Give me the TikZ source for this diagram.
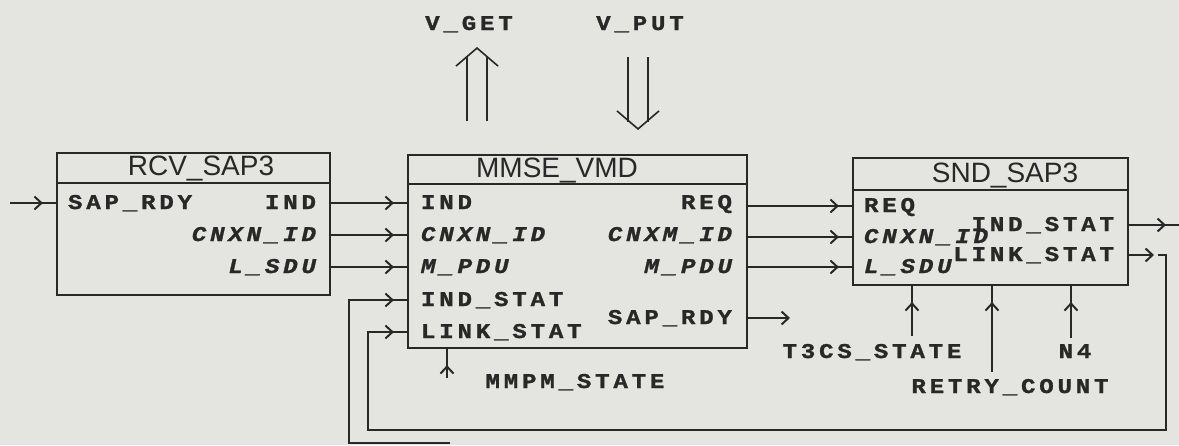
\documentclass[tikz,border=0pt]{standalone}
\usepackage{fontspec}
\usetikzlibrary{arrows.meta,decorations.markings,positioning}
\newfontfamily\portfont[FakeStretch=1.15,LetterSpace=18,BoldFeatures={FakeBold=1.2},BoldItalicFeatures={FakeBold=1.2}]{Liberation Mono}
\newfontfamily\titlefont{Liberation Sans}
\definecolor{paper}{RGB}{228,228,225}
\definecolor{ink}{RGB}{40,40,40}

\begin{document}
\begin{tikzpicture}[x=0.5pt,y=-0.5pt,color=ink,line width=1pt]
    % Define styles
    \tikzstyle{block} = [rectangle, draw, line width=1.1pt, inner sep=0pt]
    \tikzstyle{title} = [font=\titlefont\fontsize{14}{14}\selectfont, inner sep=0pt, text height=10pt, text depth=0pt]
    \tikzstyle{sig} = [font=\portfont\bfseries\fontsize{10.5}{10.5}\selectfont, inner sep=0pt, text height=6pt, text depth=0pt]
    \tikzstyle{isig} = [sig, font=\portfont\bfseries\itshape\fontsize{10.5}{10.5}\selectfont]
    \tikzstyle{wire} = [draw, -{Straight Barb[length=3.5pt,width=6.5pt]}]
    \tikzstyle{port} = [draw, postaction={decorate, decoration={markings, mark=at position -6.5pt with {\arrow{Straight Barb[length=3.5pt,width=6.5pt]}}}}]
    \tikzstyle{feed} = [draw, postaction={decorate, decoration={markings, mark=at position -8pt with {\arrow{Straight Barb[length=3.5pt,width=6.5pt]}}}}]
    \tikzstyle{shaft} = [draw, double=paper, double distance=9pt, line width=0.8pt]
    \tikzstyle{head} = [draw, line width=0.8pt, -{Straight Barb[length=9pt,width=21pt]}]

    \path [use as bounding box, fill=paper] (0,0) rectangle (1179,445);

    % Blocks
    \node [block, minimum width=136.5pt, minimum height=71pt] (rcv) at (193.5,224) {};
    \node [block, minimum width=169.5pt, minimum height=96.5pt] (mmse) at (577.5,251.5) {};
    \node [block, minimum width=137.5pt, minimum height=63.5pt] (snd) at (990.5,221.5) {};
    \draw [line width=1.1pt] (rcv.west |- 0,183) -- (rcv.east |- 0,183);
    \draw [line width=1.1pt] (mmse.west |- 0,184) -- (mmse.east |- 0,184);
    \draw [line width=1.1pt] (snd.west |- 0,190) -- (snd.east |- 0,190);
    \node [title] (rcvname) at (201,165) {RCV\_SAP3};
    \node [title] (mmsename) at (557,167) {MMSE\_VMD};
    \node [title] (sndname) at (1005,172) {SND\_SAP3};

    % RCV_SAP3 ports
    \node [sig, anchor=west] (rcvsap) at (67,203) {SAP\_RDY};
    \node [sig, anchor=east] (rcvind) at (317,203) {IND};
    \node [isig, anchor=east] (rcvcnxn) at (317,235) {CNXN\_ID};
    \node [isig, anchor=east] (rcvsdu) at (317,267) {L\_SDU};

    % MMSE_VMD ports
    \node [sig, anchor=west] (mmseind) at (420,203) {IND};
    \node [isig, anchor=west] (mmsecnxn) at (420,235) {CNXN\_ID};
    \node [isig, anchor=west] (mmsepdu) at (420,267) {M\_PDU};
    \node [sig, anchor=west] (mmseistat) at (420,300) {IND\_STAT};
    \node [sig, anchor=west] (mmselink) at (420,332) {LINK\_STAT};
    \node [sig, anchor=east] (mmsereq) at (733,203) {REQ};
    \node [isig, anchor=east] (mmsecnxm) at (733,235) {CNXM\_ID};
    \node [isig, anchor=east] (mmsempdu) at (733,267) {M\_PDU};
    \node [sig, anchor=east] (mmsesap) at (733,318) {SAP\_RDY};

    % SND_SAP3 ports
    \node [sig, anchor=west] (sndreq) at (863,206) {REQ};
    \node [isig, anchor=west] (sndcnxn) at (863,237) {CNXN\_ID};
    \node [isig, anchor=west] (sndsdu) at (863,267) {L\_SDU};
    \node [sig, anchor=east] (sndistat) at (1115,225) {IND\_STAT};
    \node [sig, anchor=east] (sndlink) at (1115,255) {LINK\_STAT};

    % Outside signals
    \node [sig] (vget) at (469,24) {V\_GET};
    \node [sig] (vput) at (640,24) {V\_PUT};
    \node [sig] (mmpm) at (575,382) {MMPM\_STATE};
    \node [sig] (t3cs) at (872,352) {T3CS\_STATE};
    \node [sig] (retry) at (1010,387) {RETRY\_COUNT};
    \node [sig] (nfour) at (1075,352) {N4};

    \coordinate (rcvsrc) at (10,203);
    \coordinate (getbase) at (477,121);
    \coordinate (gettip) at (477,47);
    \coordinate (putend) at (638,130);
    \coordinate (sapout) at (790,318);
    \coordinate (istatout) at (1179,225);
    \coordinate (linkout) at (1154,255);
    \coordinate (fbright) at (1166,430);
    \coordinate (fbleft) at (368,430);
    \coordinate (outerend) at (450,443);
    \coordinate (outercorner) at (349,443);
    \coordinate (mmpmin) at (447,378);
    \coordinate (t3csin) at (912,336);
    \coordinate (retryin) at (992,372);
    \coordinate (nfourin) at (1071,338);

    % Connect blocks
    \path [port] (rcvsrc) -- (rcv.west |- rcvsap);
    \path [port] (rcv.east |- rcvind) -- (mmse.west |- mmseind);
    \path [port] (rcv.east |- rcvcnxn) -- (mmse.west |- mmsecnxn);
    \path [port] (rcv.east |- rcvsdu) -- (mmse.west |- mmsepdu);
    \path [port] (mmse.east |- sndreq) -- (snd.west |- sndreq);
    \path [port] (mmse.east |- sndcnxn) -- (snd.west |- sndcnxn);
    \path [port] (mmse.east |- sndsdu) -- (snd.west |- sndsdu);
    \path [wire] (mmse.east |- mmsesap) -- (sapout);
    \path [port] (snd.east |- sndistat) -- (istatout);
    \path [wire] (snd.east |- sndlink) -- (linkout);

    % Feedback lines
    \path [port] ([xshift=2pt]linkout) -| (fbright) -- (fbleft) |- (mmse.west |- mmselink);
    \path [port] (outerend) -- (outercorner) |- (mmse.west |- mmseistat);

    % State inputs
    \path [feed] (mmpmin) -- (mmpmin |- mmse.south);
    \path [feed] (t3csin) -- (t3csin |- snd.south);
    \path [feed] (retryin) -- (retryin |- snd.south);
    \path [feed] (nfourin) -- (nfourin |- snd.south);

    % Variable access
    \path [shaft, shorten >=12.5pt] (getbase) -- (getbase |- vget.south);
    \path [head] ([yshift=-0.5pt]gettip) -- (gettip);
    \path [shaft, shorten <=13pt, shorten >=4pt] (putend |- vput.south) -- (putend);
    \path [head] ([yshift=0.5pt]putend) -- (putend);
\end{tikzpicture}
\end{document}
